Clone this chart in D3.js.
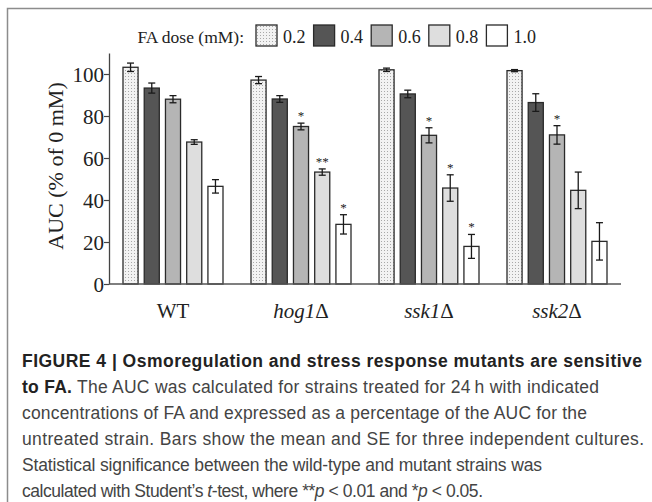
<!DOCTYPE html>
<html>
<head>
<script src="https://d3js.org/d3.v7.min.js"></script>
<style>
  body { margin: 0; background: #fff; }
</style>
</head>
<body>
<svg id="fig" width="652" height="502"></svg>
<script>
// strains along x, FA doses as series
const strains = ["WT", "hog1", "ssk1", "ssk2"];
const doses = ["0.2", "0.4", "0.6", "0.8", "1.0"];
const means = [
  [103.2, 93.3, 88.0, 67.6, 46.5],
  [97.1, 88.1, 75.0, 53.3, 28.4],
  [102.0, 90.5, 70.8, 45.7, 17.9],
  [101.6, 86.4, 71.0, 44.6, 20.3]
];
const errs = [
  [2.0, 2.4, 1.7, 1.1, 3.2],
  [1.7, 1.6, 1.6, 1.5, 4.6],
  [0.8, 1.8, 3.6, 6.3, 5.7],
  [0.5, 4.2, 4.4, 8.7, 8.9]
];
const sig = [
  ["", "", "", "", ""],
  ["", "", "*", "**", "*"],
  ["", "", "*", "*", "*"],
  ["", "", "*", "", ""]
];
const yTicks = [0, 20, 40, 60, 80, 100];
const fills = ["url(#dots)", "#555555", "#b5b5b5", "#dedede", "#ffffff"];

const svg = d3.select("#fig");
const serif = "'Liberation Serif', 'Times New Roman', serif";
const sans = "'Liberation Sans', Arial, sans-serif";

// dotted fill for the 0.2 mM bars
const pat = svg.append("defs").append("pattern")
  .attr("id", "dots").attr("patternUnits", "userSpaceOnUse")
  .attr("width", 3).attr("height", 3);
pat.append("rect").attr("width", 3).attr("height", 3).attr("fill", "#f2f2f2");
pat.append("rect").attr("x", 1).attr("y", 1).attr("width", 1).attr("height", 1).attr("fill", "#a8a8a8");

// frame (left and top only)
svg.append("path")
  .attr("d", "M7.5,502 L7.5,8.5 L652,8.5")
  .attr("fill", "none").attr("stroke", "#8c8c8c").attr("stroke-width", 1.5);

const plotL = 109, plotR = 621, plotB = 284, plotT = 53;
const x0 = d3.scaleBand().domain(strains).range([plotL, plotR]).padding(0);
const x1 = d3.scaleBand().domain(doses).range([14, 114]).paddingInner(0.29);
const y = d3.scaleLinear().domain([0, 110]).range([plotB, plotT]);

// y axis
const yAxis = svg.append("g")
  .attr("transform", "translate(" + plotL + ",0)")
  .call(d3.axisLeft(y).tickValues(yTicks).tickSize(5).tickSizeOuter(0).tickPadding(0));
yAxis.select(".domain").attr("stroke", "#444").attr("stroke-width", 1.3);
yAxis.selectAll(".tick line").attr("stroke", "#444").attr("stroke-width", 1.2);
yAxis.selectAll(".tick text")
  .attr("font-family", serif).attr("font-size", 21).attr("fill", "#222")
  .attr("dy", "0.34em");

svg.append("text")
  .attr("transform", "translate(63,166) rotate(-90)")
  .attr("text-anchor", "middle")
  .attr("font-family", serif).attr("font-size", 22).attr("fill", "#222")
  .text("AUC (% of 0 mM)");

// bars
const groups = svg.selectAll("g.strain").data(strains).join("g")
  .attr("class", "strain")
  .attr("transform", d => "translate(" + x0(d) + ",0)");

groups.each(function (s, si) {
  const g = d3.select(this);
  doses.forEach((d, di) => {
    const v = means[si][di], e = errs[si][di];
    const bx = x1(d), bw = x1.bandwidth(), cx = bx + bw / 2;
    g.append("rect")
      .attr("x", bx).attr("y", y(v))
      .attr("width", bw).attr("height", y(0) - y(v))
      .attr("fill", fills[di]).attr("stroke", "#2a2a2a").attr("stroke-width", 1.3);
    const eb = g.append("g").attr("stroke", "#1a1a1a").attr("stroke-width", 1.3);
    eb.append("line").attr("x1", cx).attr("x2", cx).attr("y1", y(v - e)).attr("y2", y(v + e));
    eb.append("line").attr("x1", cx - 3.5).attr("x2", cx + 3.5).attr("y1", y(v - e)).attr("y2", y(v - e));
    eb.append("line").attr("x1", cx - 3.5).attr("x2", cx + 3.5).attr("y1", y(v + e)).attr("y2", y(v + e));
    if (sig[si][di]) {
      g.append("text")
        .attr("x", cx).attr("y", y(v + e) - 3)
        .attr("text-anchor", "middle")
        .attr("font-family", serif).attr("font-size", 13).attr("fill", "#222")
        .text(sig[si][di]);
    }
  });
});

// x axis baseline
svg.append("line")
  .attr("x1", plotL).attr("x2", plotR).attr("y1", y(0)).attr("y2", y(0))
  .attr("stroke", "#555").attr("stroke-width", 1.4);

// strain labels: gene names italic followed by Delta
strains.forEach(s => {
  const t = svg.append("text")
    .attr("x", x0(s) + x0.bandwidth() / 2).attr("y", 318)
    .attr("text-anchor", "middle")
    .attr("font-family", serif).attr("font-size", 21).attr("fill", "#222");
  if (s === "WT") {
    t.text("WT");
  } else {
    t.append("tspan").attr("font-style", "italic").text(s);
    t.append("tspan").text("\u0394");
  }
});

// legend
svg.append("text")
  .attr("x", 244).attr("y", 43).attr("text-anchor", "end")
  .attr("font-family", serif).attr("font-size", 17.5).attr("fill", "#222")
  .text("FA dose (mM):");
const leg = svg.selectAll("g.leg").data(doses).join("g")
  .attr("class", "leg")
  .attr("transform", (d, i) => "translate(" + (256 + i * 57.6) + ",25)");
leg.append("rect")
  .attr("width", 21).attr("height", 21)
  .attr("fill", (d, i) => fills[i]).attr("stroke", "#2a2a2a").attr("stroke-width", 1.3);
leg.append("text")
  .attr("x", 27).attr("y", 18)
  .attr("font-family", serif).attr("font-size", 18).attr("fill", "#222")
  .text(d => d);

// caption, one text per line, stretched to the reference line widths
const lines = [
  [["FIGURE 4 | Osmoregulation and stress response mutants are sensitive", "b"]],
  [["to FA.", "b"], [" The AUC was calculated for strains treated for 24\u2009h with indicated", ""]],
  [["concentrations of FA and expressed as a percentage of the AUC for the", ""]],
  [["untreated strain. Bars show the mean and SE for three independent cultures.", ""]],
  [["Statistical significance between the wild-type and mutant strains was", ""]],
  [["calculated with Student\u2019s ", ""], ["t", "i"], ["-test, where **", ""], ["p", "i"], [" < 0.01 and *", ""], ["p", "i"], [" < 0.05.", ""]]
];
const lineEnds = [642, 599, 587, 644, 542, 483];
lines.forEach((ln, li) => {
  const t = svg.append("text")
    .attr("x", 22).attr("y", 367 + li * 26)
    .attr("font-family", sans).attr("font-size", 17.5).attr("fill", "#444")
    .attr("textLength", lineEnds[li] - 22).attr("lengthAdjust", "spacing");
  ln.forEach(part => {
    const ts = t.append("tspan").text(part[0]);
    if (part[1] === "b") ts.attr("font-weight", "bold").attr("fill", "#222");
    if (part[1] === "i") ts.attr("font-style", "italic");
  });
});
</script>
</body>
</html>
